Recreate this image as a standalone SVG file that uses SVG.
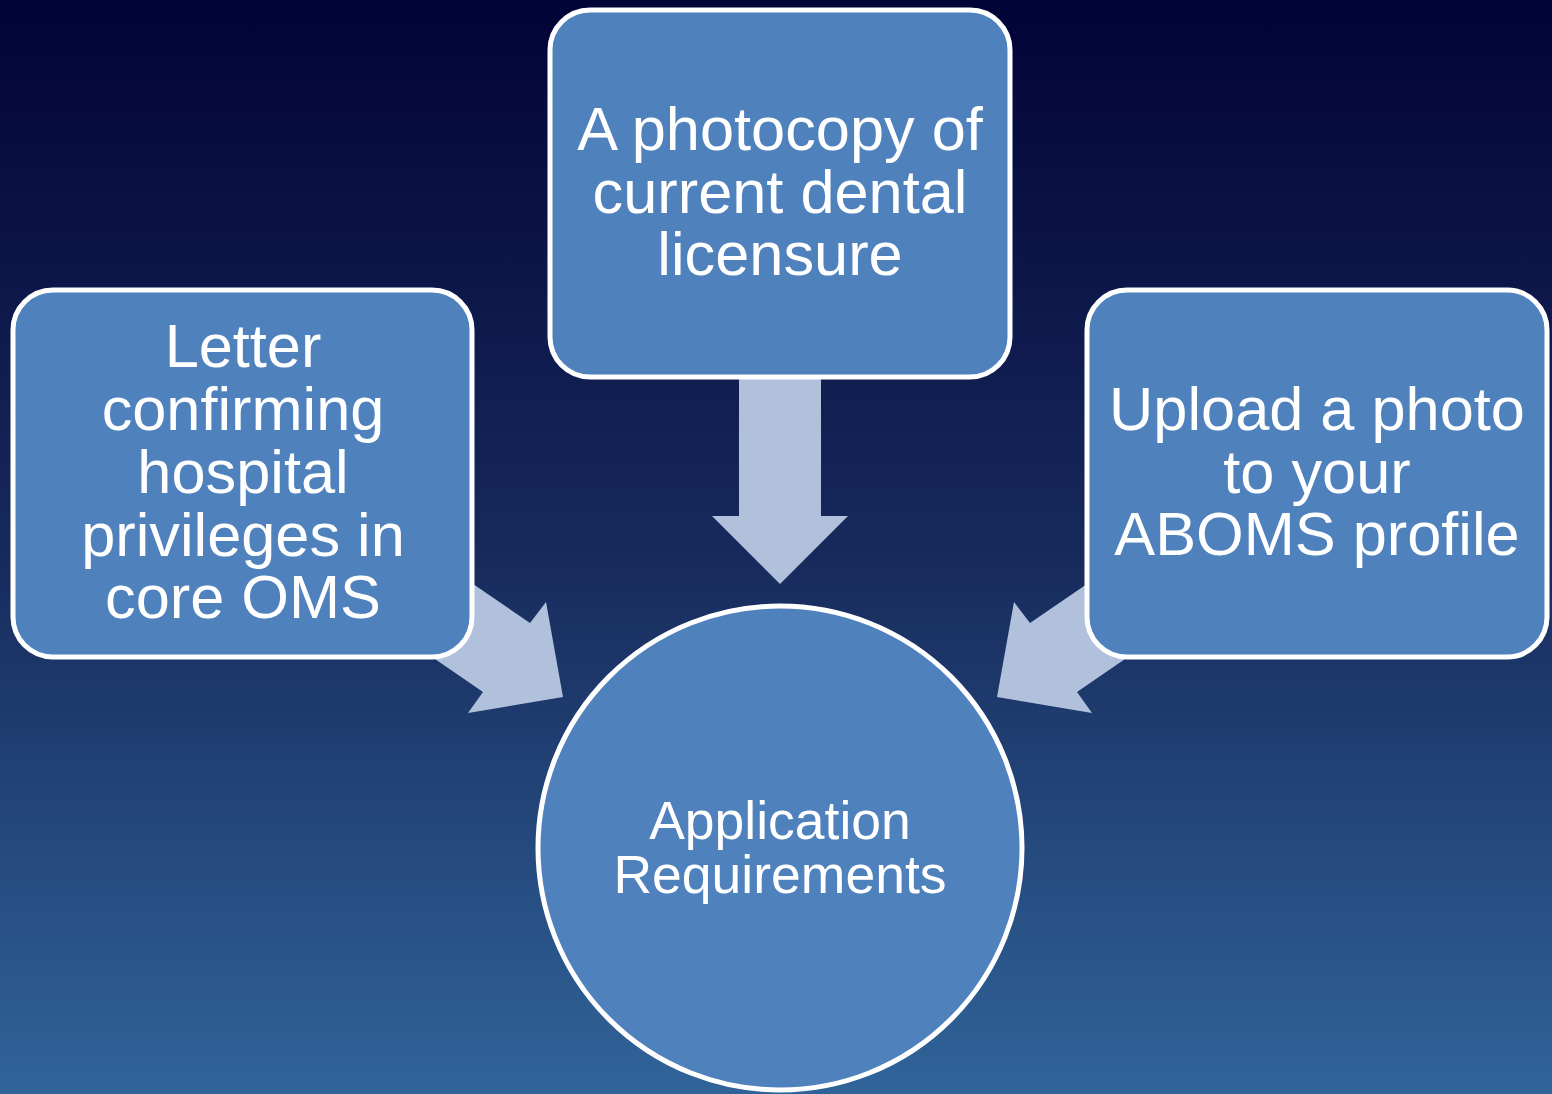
<svg xmlns="http://www.w3.org/2000/svg" width="1552" height="1094" viewBox="0 0 1552 1094">
<defs>
<linearGradient id="bg" x1="0" y1="0" x2="0" y2="1">
<stop offset="0" stop-color="#020337"/>
<stop offset="0.5" stop-color="#17295b"/>
<stop offset="1" stop-color="#306499"/>
</linearGradient>
<style>
.box{fill:#4f81bd;stroke:#ffffff;stroke-width:5}
.arr{fill:#b1c1dc}
.t{fill:#ffffff;font-family:"Liberation Sans",Arial,sans-serif;text-anchor:middle}
.big{font-size:61.3px}
.mid{font-size:53.5px}
</style>
</defs>
<rect width="1552" height="1094" fill="url(#bg)"/>
<g id="connectors">
<polygon class="arr" points="739,360 821,360 821,516 848,516 780,584 712,516 739,516"/>
<polygon class="arr" points="400,534 530,623 546,602 563,697 468,713 483,692 400,635"/>
<polygon class="arr" points="1160,534 1030,623 1014,602 997,697 1092,713 1077,692 1160,635"/>
</g>
<g id="node-top">
<rect class="box" x="550" y="10" width="460" height="367" rx="40"/>
<text class="t big" x="780" y="150">A photocopy of</text>
<text class="t big" x="780" y="213">current dental</text>
<text class="t big" x="780" y="275">licensure</text>
</g>
<g id="node-left">
<rect class="box" x="13" y="290" width="459" height="367" rx="40"/>
<text class="t big" x="243" y="367">Letter</text>
<text class="t big" x="243" y="430">confirming</text>
<text class="t big" x="243" y="493">hospital</text>
<text class="t big" x="243" y="556">privileges in</text>
<text class="t big" x="243" y="618">core OMS</text>
</g>
<g id="node-right">
<rect class="box" x="1087" y="290" width="460" height="367" rx="40"/>
<text class="t big" x="1317" y="430">Upload a photo</text>
<text class="t big" x="1317" y="493">to your</text>
<text class="t big" x="1317" y="555">ABOMS profile</text>
</g>
<g id="node-center">
<circle class="box" cx="780" cy="848" r="242"/>
<text class="t mid" x="780" y="839">Application</text>
<text class="t mid" x="780" y="893">Requirements</text>
</g>
</svg>
